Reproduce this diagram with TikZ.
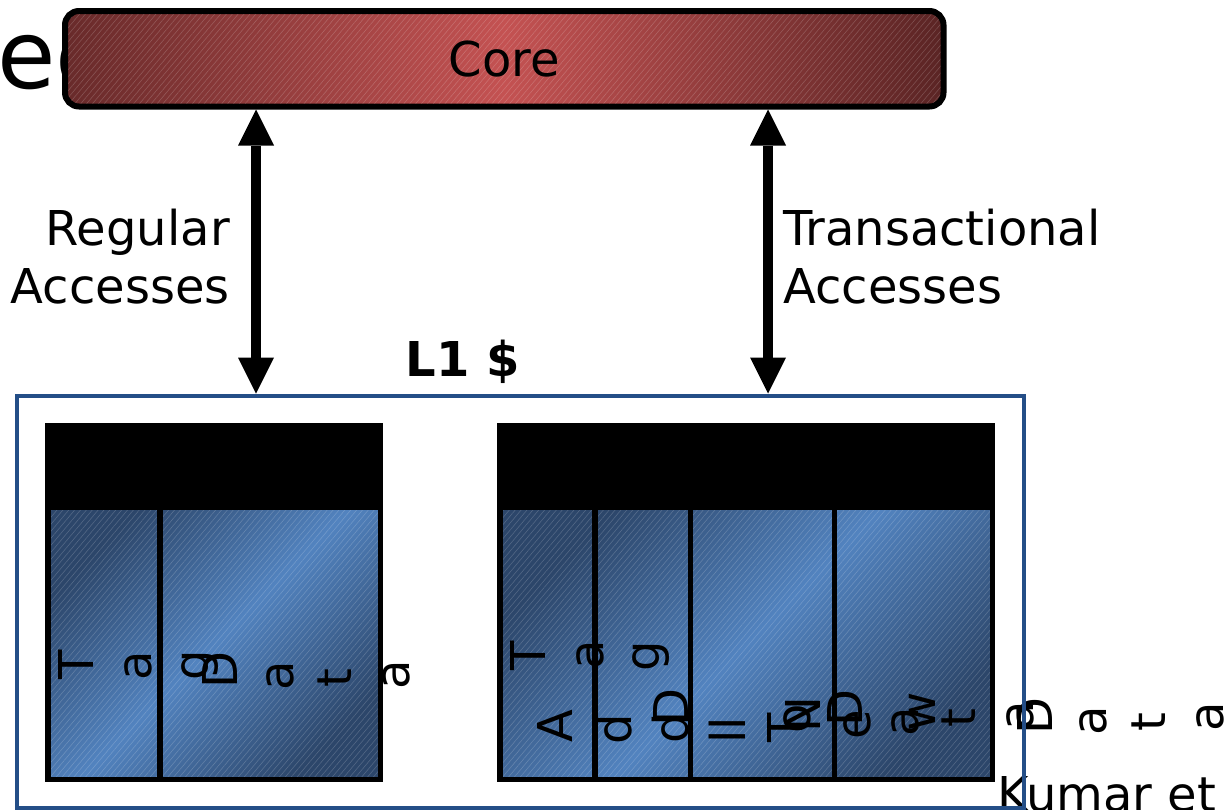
\documentclass[tikz,border=0pt]{standalone}
\usepackage{fontspec}
\setmainfont{DejaVu Sans}
\usetikzlibrary{arrows.meta,patterns.meta}
\definecolor{corelight}{RGB}{196,82,82}
\definecolor{coredarkl}{RGB}{104,42,42}
\definecolor{coredarkr}{RGB}{90,36,36}
\definecolor{celldark}{RGB}{44,70,106}
\definecolor{celllight}{RGB}{82,131,191}
\definecolor{framecol}{RGB}{36,78,135}
\newcommand\glyphat[4]{\node[glyph] (#1) at (#2,#3) {#4};}
\begin{document}
\begin{tikzpicture}[x=1pt,y=-1pt,
  lbl/.style={font=\fontsize{48}{58}\selectfont, inner sep=0pt},
  glyph/.style={font=\fontsize{48}{56}\selectfont, inner sep=0pt, rotate=90, anchor=base},
  biarrow/.style={line width=10pt, {Triangle[width=36pt,length=36pt,line width=0pt]}-{Triangle[width=36pt,length=36pt,line width=0pt]}},
  tabborder/.style={line width=5.5pt},
  cellshade/.style={top color=celldark, bottom color=celldark, middle color=celllight, shading angle=45},
  hatch/.style={pattern={Lines[angle=50, distance=4.5pt, line width=0.6pt]}, pattern color=white, opacity=0.18},
]
\useasboundingbox (0,0) rectangle (1228,809);

% title fragment behind the core box
\node[font=\fontsize{95}{110}\selectfont, inner sep=0pt, anchor=base west] (title) at (-3,88) {ed};

% core
\node[draw, line width=6pt, rounded corners=14pt, minimum width=878.5pt, minimum height=95.5pt,
      left color=coredarkl, right color=coredarkr, middle color=corelight] (core) at (504.25,58.75) {};
\fill[hatch, rounded corners=11pt] (68,14) rectangle (940.5,103.5);
\node[lbl] (coretext) at (core.center) {Core};

% access labels
\node[lbl, align=right, anchor=north east] (reglbl) at (230,209) {Regular\\Accesses};
\node[lbl, align=left, anchor=north west] (trlbl) at (783,209) {Transactional\\Accesses};

% L1 label
\node[font=\fontsize{48}{58}\selectfont\bfseries, inner sep=0pt, anchor=base] (l1lbl) at (463,376) {L1 \$};

% left table
\shade[cellshade] (47.75,510) rectangle (380.25,779.25);
\fill[hatch] (47.75,510) rectangle (380.25,779.25);
\fill (45,423) rectangle (383,510);
\draw[tabborder] (160,510) -- (160,779.25);
\draw[tabborder] (47.75,425.75) rectangle (380.25,779.25);

% right table
\shade[cellshade] (499.75,510) rectangle (992.25,779.25);
\fill[hatch] (499.75,510) rectangle (992.25,779.25);
\fill (497,423) rectangle (995,510);
\draw[tabborder] (595,510) -- (595,779.25);
\draw[tabborder] (690.5,510) -- (690.5,779.25);
\draw[tabborder] (834.5,510) -- (834.5,779.25);
\draw[tabborder] (499.75,425.75) rectangle (992.25,779.25);

% left table glyphs
\glyphat{l1}{93}{665}{T}
\glyphat{l2}{151}{666}{a}
\glyphat{l3}{208}{665}{g}
\glyphat{l4}{237}{670}{D}
\glyphat{l5}{293}{676}{a}
\glyphat{l6}{351}{678}{t}
\glyphat{l7}{409}{675}{a}

% right table glyphs
\glyphat{r1}{545}{656}{T}
\glyphat{r2}{603}{655}{a}
\glyphat{r3}{659}{656}{g}
\glyphat{r4}{572}{726}{A}
\glyphat{r5}{631}{729}{d}
\glyphat{r6}{688}{707}{D}
\glyphat{r7}{688}{728}{d}
\glyphat{r8}{745}{730}{ll}
\glyphat{r9}{802}{728}{T}
\glyphat{r10}{810}{719}{o}
\glyphat{r11}{820}{715}{N}
\glyphat{r12}{862}{708}{D}
\glyphat{r13}{870}{725}{e}
\glyphat{r14}{918}{722}{a}
\glyphat{r15}{935}{712}{w}
\glyphat{r16}{975}{718}{t}
\glyphat{r17}{1033}{716}{a}
\glyphat{r18}{1052}{716}{D}
\glyphat{r19}{1106}{721}{a}
\glyphat{r20}{1165}{722}{t}
\glyphat{r21}{1223}{717}{a}

% citation fragment
\node[lbl, anchor=base west] (cite) at (997,811) {Kumar et};

% L1 frame
\node[draw=framecol, line width=4pt, minimum width=1007.5pt, minimum height=412pt, inner sep=0pt] (l1) at (520.25,601.5) {};

% arrows
\coordinate (regx) at (256,0);
\coordinate (trx) at (768,0);
\draw[biarrow] (core.south -| regx) -- (l1.north -| regx);
\draw[biarrow] (core.south -| trx) -- (l1.north -| trx);
\end{tikzpicture}
\end{document}
